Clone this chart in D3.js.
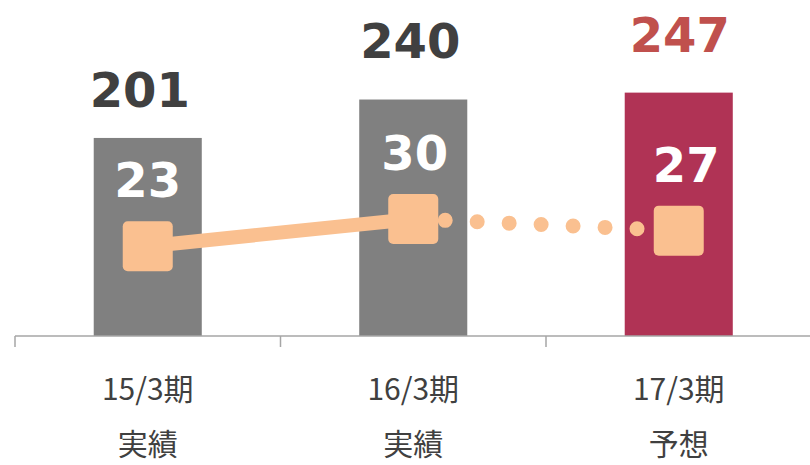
<!DOCTYPE html>
<html><head><meta charset="utf-8">
<script src="https://cdn.jsdelivr.net/npm/d3@7"></script>
<style>html,body{margin:0;padding:0;background:#fff;}svg{display:block;}</style>
</head><body><svg id="c" width="810" height="465"></svg>
<script>
// ---- data ----
const periods = ["15/3期", "16/3期", "17/3期"];
const periodTypes = ["実績", "実績", "予想"];
const totals = [201, 240, 247];
const lineValues = [23, 30, 27];
const isForecast = [false, false, true];

// ---- layout / style ----
const W = 810, H = 465, baseY = 336;
const totalLabelDy = [-31, -42, -41];
const totalLabelDx = [-8, -3, 1];
const lineLabelDx = [0, 1.5, 7.5];
const peach = "#FAC090";

const svg = d3.select("#c");

const xOuter = d3.scaleBand().domain(periods).range([15, 811.5]).padding(0);
const x = d3.scaleBand().domain(periods).range([15, 811.5]).paddingInner(0.593).paddingOuter(0.2965);
const y = d3.scaleLinear().domain([0, 341]).range([baseY, 0]);
const y2 = d3.scaleLinear().domain([0, 86.1]).range([baseY, 0]);

const data = periods.map((p, i) => ({p, t: periodTypes[i], total: totals[i], v: lineValues[i], f: isForecast[i], i}));

// bars
svg.append("g").selectAll("rect").data(data).join("rect")
  .attr("x", d => x(d.p)).attr("width", x.bandwidth())
  .attr("y", d => y(d.total)).attr("height", d => baseY - y(d.total))
  .attr("fill", d => d.f ? "#B03355" : "#808080");

// axis
const axisG = svg.append("g").attr("transform", `translate(0,${baseY})`);
axisG.append("line").attr("x1", 15).attr("x2", W).attr("y1", 0).attr("y2", 0)
  .attr("stroke", "#A6A6A6").attr("stroke-width", 1.5);
axisG.selectAll("line.tick").data(periods).join("line").attr("class", "tick")
  .attr("x1", d => xOuter(d)).attr("x2", d => xOuter(d))
  .attr("y1", 0).attr("y2", 11).attr("stroke", "#A6A6A6").attr("stroke-width", 1.5);

const cx = d => x(d.p) + x.bandwidth() / 2;

// line: solid for actuals, dotted to forecast
const actual = data.filter(d => !d.f);
const fc = data.slice(actual.length - 1);
const lineGen = d3.line().x(cx).y(d => y2(d.v));
svg.append("path").attr("d", lineGen(actual)).attr("fill", "none")
  .attr("stroke", peach).attr("stroke-width", 14);
svg.append("path").attr("d", lineGen(fc)).attr("fill", "none")
  .attr("stroke", peach).attr("stroke-width", 15).attr("stroke-linecap", "round")
  .attr("stroke-dasharray", "0 32");

// markers
const ms = 50;
svg.append("g").selectAll("rect").data(data).join("rect")
  .attr("x", d => cx(d) - ms / 2).attr("y", d => y2(d.v) - ms / 2)
  .attr("width", ms).attr("height", ms).attr("rx", 5)
  .attr("fill", peach);

// line value labels
svg.append("g").selectAll("text").data(data).join("text")
  .attr("x", d => cx(d) + lineLabelDx[d.i]).attr("y", d => y2(d.v) - 49)
  .attr("text-anchor", "middle")
  .attr("font-family", "DejaVu Sans, Verdana, sans-serif").attr("font-weight", "bold")
  .attr("font-size", 48).attr("fill", "#fff").text(d => d.v);

// total labels
svg.append("g").selectAll("text").data(data).join("text")
  .attr("x", d => cx(d) + totalLabelDx[d.i]).attr("y", d => y(d.total) + totalLabelDy[d.i])
  .attr("text-anchor", "middle")
  .attr("font-family", "DejaVu Sans, Verdana, sans-serif").attr("font-weight", "bold")
  .attr("font-size", 48).attr("fill", d => d.f ? "#C0504D" : "#404040").text(d => d.total);

// category labels
const cat = svg.append("g").selectAll("g").data(data).join("g");
cat.append("text").attr("x", cx).attr("y", 400).attr("text-anchor", "middle")
  .attr("font-family", "Noto Sans CJK JP, sans-serif").attr("font-size", 30)
  .attr("fill", "#404040").text(d => d.p);
cat.append("text").attr("x", cx).attr("y", 455).attr("text-anchor", "middle")
  .attr("font-family", "Noto Sans CJK JP, sans-serif").attr("font-size", 30)
  .attr("fill", "#404040").text(d => d.t);
</script></body></html>
